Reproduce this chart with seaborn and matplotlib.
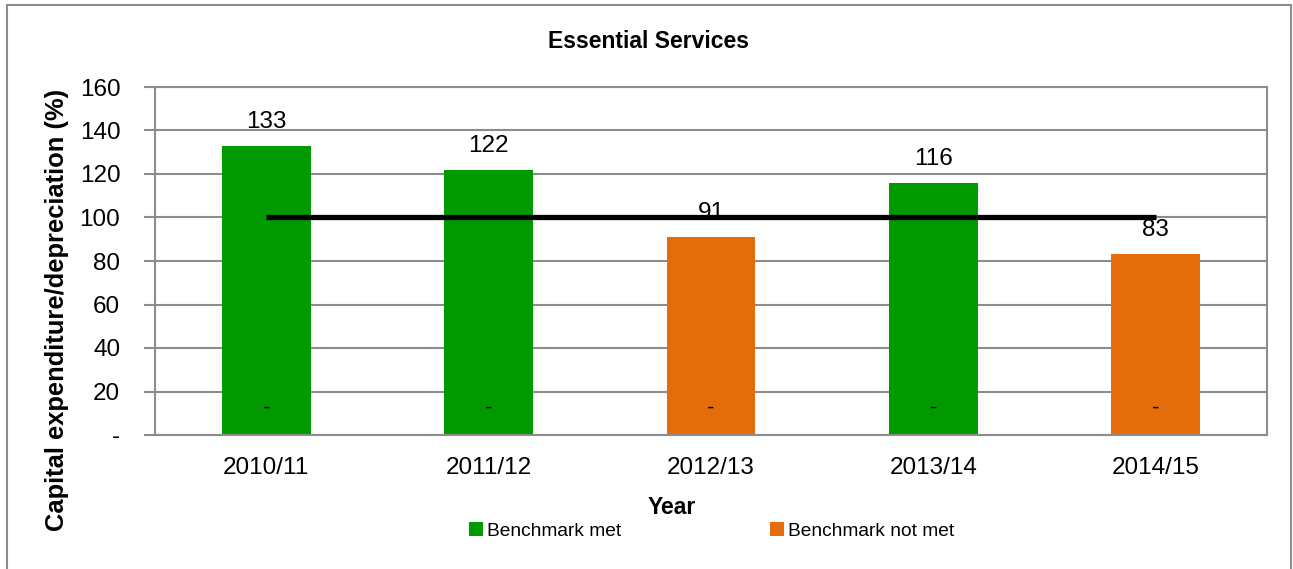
import numpy as np
import pandas as pd
import matplotlib
matplotlib.use("Agg")
import matplotlib.pyplot as plt
from matplotlib.patches import Rectangle, Patch
import seaborn as sns

# Chart data
years = ["2010/11", "2011/12", "2012/13", "2013/14", "2014/15"]
met = [133, 122, 0, 116, 0]
not_met = [0, 0, 91, 0, 83]
benchmark = [100, 100, 100, 100, 100]
series_names = ["Benchmark met", "Benchmark not met"]
y_ticks = [0, 20, 40, 60, 80, 100, 120, 140, 160]
y_tick_labels = ["-", "20", "40", "60", "80", "100", "120", "140", "160"]

sns.set_theme(style="white")
plt.rcParams["font.family"] = ["Liberation Sans", "DejaVu Sans"]
plt.rcParams["text.color"] = "black"
plt.rcParams["xtick.labelcolor"] = "black"
plt.rcParams["ytick.labelcolor"] = "black"

GREEN = "#009900"
ORANGE = "#E46C0A"
GRID = "#8c8c8c"
W, H = 1293, 569

df = pd.DataFrame({
    "Year": years * 2,
    "Value": met + not_met,
    "Status": [series_names[0]] * len(years) + [series_names[1]] * len(years),
})
palette = {series_names[0]: GREEN, series_names[1]: ORANGE}

fig = plt.figure(figsize=(W / 100, H / 100), dpi=100)
ax = fig.add_axes([155 / W, 1 - 435 / H, (1267 - 155) / W, (435 - 87) / H])

sns.barplot(data=df, x="Year", y="Value", hue="Status", dodge=False,
            palette=palette, width=0.4, saturation=1, linewidth=0,
            legend=False, ax=ax, zorder=2)

# benchmark line
ax.plot(range(len(years)), benchmark, color="black", lw=3.8,
        solid_capstyle="butt", zorder=3)

# value labels above bars, dash for the empty series
for i in range(len(years)):
    for vals in (met, not_met):
        v = vals[i]
        if v > 0:
            ax.annotate(str(v), (i, v), xytext=(0, 13), textcoords="offset points",
                        ha="center", va="baseline", fontsize=17.5, zorder=4)
        else:
            ax.annotate("-", (i, v), xytext=(0, 19), textcoords="offset points",
                        ha="center", va="center", fontsize=16, zorder=4)

ax.set_xlim(-0.5, len(years) - 0.5)
ax.set_ylim(0, 160)
ax.set_yticks(y_ticks)
ax.set_yticklabels(y_tick_labels)
ax.set_xticks(range(len(years)))
ax.set_xticklabels(years)
ax.set_xticks(np.arange(-0.5, len(years), 1), minor=True)
ax.tick_params(axis="x", which="major", length=0, pad=16, labelsize=17.5)
ax.tick_params(axis="x", which="minor", length=8, width=1.5, color=GRID, direction="out")
ax.tick_params(axis="y", which="major", length=8, width=1.5, color=GRID, direction="out",
               pad=17, labelsize=17.5, left=True)
ax.set_xlabel("")
ax.set_ylabel("")

ax.set_axisbelow(True)
ax.yaxis.grid(True, color=GRID, lw=1.5)
for side in ["left", "right", "bottom", "top"]:
    ax.spines[side].set_visible(True)
    ax.spines[side].set_color(GRID)
    ax.spines[side].set_linewidth(1.5)

fig.text(649 / W, 1 - 42 / H, "Essential Services", ha="center", va="center",
         fontsize=16.5, fontweight="bold")
fig.text(57 / W, 1 - 310 / H, "Capital expenditure/depreciation (%)", ha="center",
         va="center", rotation=90, fontsize=18.4, fontweight="bold")
fig.text(672 / W, 1 - 507 / H, "Year", ha="center", va="center",
         fontsize=16.5, fontweight="bold")

handles = [Patch(facecolor=GREEN, edgecolor="none"), Patch(facecolor=ORANGE, edgecolor="none")]
fig.legend(handles, series_names, loc="center", bbox_to_anchor=(711.5 / W, 1 - 531 / H),
           ncol=2, frameon=False, fontsize=13.8, handlelength=0.7, handleheight=0.7,
           handletextpad=0.2, columnspacing=7.8, borderpad=0)

fig.patches.append(Rectangle((7 / W, -0.05), (1291 - 7) / W, 1 - 5 / H + 0.05,
                             transform=fig.transFigure, fill=False,
                             edgecolor=GRID, lw=1.5))

fig.savefig("out.png", dpi=100)
